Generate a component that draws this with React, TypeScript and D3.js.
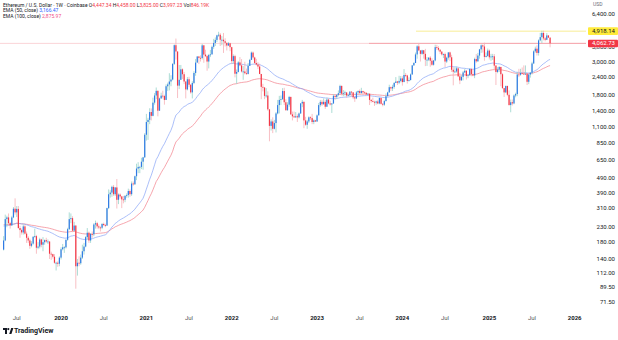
import React from "react";
import * as d3 from "d3";

// Weekly bars, first bar = week of Monday 2019-05-06
const FIRST_OPEN = 162;
const CLOSE = [
  187,261,268,245,237,268,307,290,306,227,
  220,212,233,208,195,187,172,178,198,200,
  167,170,190,175,182,188,184,184,152,151,
  145,132,132,130,143,163,168,168,189,223,
  261,265,218,236,125,132,131,143,158,170,
  197,211,187,207,206,240,245,233,229,228,
  242,238,236,310,385,395,432,385,428,353,
  383,372,355,353,375,380,405,385,455,450,
  510,575,590,590,640,685,975,1190,1230,1390,
  1310,1610,1800,1935,1420,1720,1795,1785,1680,2080,
  2140,2240,2310,2950,3950,3580,2100,2300,2710,2510,
  2240,1980,2320,2130,1890,2190,2560,3010,3310,3240,
  3230,3940,3410,3330,3060,3390,3420,3850,4090,4290,
  4610,4650,4300,4300,4200,4100,3930,4070,3830,3080,
  3330,2530,2600,3020,2880,2620,2620,2550,2520,2860,
  3140,3520,3260,2990,2920,2830,2520,2060,2040,1790,
  1800,1450,1120,1200,1070,1170,1360,1550,1680,1700,
  1930,1620,1430,1560,1760,1340,1300,1280,1300,1280,
  1360,1590,1630,1220,1140,1200,1280,1265,1190,1220,
  1200,1320,1550,1630,1570,1630,1510,1690,1590,1565,
  1590,1790,1760,1820,1865,2090,1850,1870,1890,1800,
  1810,1910,1890,1750,1720,1890,1930,1870,1930,1890,
  1880,1830,1850,1680,1650,1630,1610,1640,1590,1730,
  1580,1560,1650,1780,1890,2050,2010,2060,2190,2240,
  2200,2260,2350,2220,2480,2460,2260,2290,2500,2880,
  2990,3420,3880,3640,3450,3650,3450,3150,3150,3250,
  3100,2910,3110,3830,3780,3680,3570,3420,3440,3060,
  3250,3530,3270,2690,2610,2620,2750,2430,2280,2410,
  2580,2650,2440,2470,2720,2510,2460,3180,3070,3360,
  3700,3940,3870,3290,3340,3630,3270,3310,3320,2870,
  2600,2700,2810,2510,2020,1890,2090,1820,1550,1620,
  1590,1800,1840,2500,2490,2560,2530,2520,2530,2230,
  2500,2570,2970,3590,3740,3500,4260,4480,4780,4390,
  4300,4600,4447.34,4062.73,
];
const HIGH = [
  200,280,275,285,250,275,315,361,320,320,
  235,225,240,238,215,200,192,185,200,225,
  204,182,195,192,197,190,195,190,184,157,
  152,151,134,135,146,168,177,171,190,228,
  290,285,273,250,237,140,146,150,175,180,
  200,227,215,210,215,245,255,250,240,233,
  245,247,243,312,415,410,440,445,430,488,
  390,390,375,375,380,390,420,415,470,470,
  515,620,635,600,680,690,1000,1350,1270,1475,
  1470,1740,1870,2040,1950,1740,1880,1940,1820,2140,
  2200,2550,2470,2980,4000,4380,3580,2900,2900,2750,
  2600,2250,2400,2410,2150,2250,2630,3180,3330,3340,
  3370,4030,3970,3680,3400,3450,3670,3930,4360,4460,
  4650,4870,4770,4550,4780,4400,4100,4150,4100,3850,
  3420,3400,2700,3080,3280,3180,2850,3050,2740,2990,
  3190,3580,3580,3300,3190,3030,2960,2510,2160,2050,
  2020,1920,1450,1240,1280,1230,1390,1680,1790,1800,
  2020,2030,1700,1620,1790,1770,1400,1400,1390,1340,
  1380,1600,1680,1640,1290,1230,1300,1300,1350,1240,
  1230,1340,1600,1680,1680,1720,1680,1740,1720,1660,
  1600,1840,1830,1830,1950,2130,2110,1960,1940,1890,
  1850,1930,1930,1900,1760,1930,1950,1980,2030,1940,
  1920,1880,1870,1860,1700,1740,1660,1660,1680,1750,
  1750,1600,1680,1860,1910,2130,2070,2130,2220,2400,
  2260,2450,2440,2430,2720,2560,2490,2390,2540,2900,
  3030,3520,3950,4090,3650,3680,3650,3730,3280,3280,
  3330,3220,3130,3980,3970,3890,3700,3600,3470,3520,
  3300,3540,3570,3400,2800,2790,2820,2780,2560,2470,
  2640,2730,2670,2520,2760,2770,2720,3250,3440,3500,
  3730,4000,4000,4110,3530,3750,3700,3450,3450,3440,
  2900,2800,2850,2820,2550,2000,2100,2100,1950,1690,
  1690,1830,1880,2600,2730,2730,2790,2880,2880,2550,
  2520,2600,3050,3650,3860,3940,4330,4790,4950,4950,
  4480,4770,4620,4458,
];
const LOW = [
  160,185,230,235,225,235,265,280,270,225,
  195,205,205,205,180,180,164,168,175,195,
  152,163,165,168,158,175,180,177,140,138,
  141,130,117,124,125,139,160,154,165,186,
  220,245,213,215,88,108,125,128,140,150,
  168,190,180,180,195,200,225,225,223,215,
  223,234,230,235,305,365,370,375,375,308,
  330,360,310,334,340,365,365,370,375,440,
  445,480,535,535,570,565,680,890,900,1150,
  1220,1300,1560,1700,1300,1420,1710,1720,1560,1680,
  1935,1950,2080,2280,2900,3150,1730,1990,2380,2330,
  2150,1720,1950,2050,1850,1720,2150,2450,3030,2940,
  3060,3160,3000,3280,2650,2750,3280,3430,3730,3900,
  4150,4500,3900,3950,3500,3870,3640,3900,3600,2950,
  2960,2390,2160,2580,2840,2580,2300,2500,2480,2500,
  2860,3140,3150,2950,2880,2720,2510,1700,1920,1700,
  1740,1420,880,1040,1000,1060,1010,1340,1360,1550,
  1680,1550,1420,1420,1510,1330,1220,1270,1270,1190,
  1260,1350,1500,1080,1120,1070,1170,1230,1150,1150,
  1190,1190,1320,1510,1530,1560,1460,1510,1570,1540,
  1370,1580,1680,1700,1780,1850,1800,1780,1800,1740,
  1780,1780,1770,1700,1630,1700,1830,1820,1850,1830,
  1840,1810,1810,1550,1610,1620,1530,1560,1570,1570,
  1560,1520,1530,1640,1770,1880,1930,1930,2000,2190,
  2120,2150,2210,2100,2300,2400,2170,2240,2280,2490,
  2870,3050,3200,3600,3060,3400,3200,2850,2860,3080,
  2820,2860,2870,3070,3670,3590,3440,3360,3230,2810,
  2990,3150,3080,2600,2110,2550,2570,2400,2150,2270,
  2280,2550,2310,2360,2460,2430,2430,2360,3000,3050,
  3200,3500,3520,3100,3260,3300,3160,3100,3140,2700,
  2120,2550,2600,2080,2000,1760,1870,1780,1540,1385,
  1540,1570,1750,1780,2400,2450,2500,2480,2480,2120,
  2150,2380,2500,2940,3510,3360,3360,4200,4080,4260,
  4200,4280,4420,3825,
];

// EMA values carried in from history before the first visible bar
const EMA50_SEED = 236;
const EMA100_SEED = 240;

const PRICE_TICKS = [6400, 3800, 3000, 2400, 1800, 1400, 1100, 850, 650, 490, 390, 310, 230, 180, 140, 112, 89.5, 71.5];
const TIME_TICK_LABELS = ["Jul", "2020", "Jul", "2021", "Jul", "2022", "Jul", "2023", "Jul", "2024", "Jul", "2025", "Jul", "2026"];
const TIME_TICK_YEARS = [2019, 2020, 2020, 2021, 2021, 2022, 2022, 2023, 2023, 2024, 2024, 2025, 2025, 2026];
const TIME_TICK_MONTHS = [6, 0, 6, 0, 6, 0, 6, 0, 6, 0, 6, 0, 6, 0];

const LAST_PRICE = 4062.73;
const MARKED_HIGH = 4918.14;
const OHLC_LABELS = ["O", "H", "L", "C"];
const OHLC_VALUES = ["4,447.34", "4,458.00", "3,825.00", "3,997.23"];
const VOLUME_TEXT = "846.19K";
const EMA_LEGEND = ["EMA (50, close)", "EMA (100, close)"];
const EMA_LEGEND_VALUES = ["3,166.47", "2,875.97"];

const UP = "#2f7ae5";
const DOWN = "#f23645";
const UP_WICK = "#97d3ca";
const DOWN_WICK = "#f6b0b6";

export default function App() {
  const W = 618, H = 340;
  const n = Math.min(CLOSE.length, HIGH.length, LOW.length);
  const start = new Date(2019, 4, 6);
  const dateOf = (i: number) => d3.timeDay.offset(start, 7 * i);
  const x = d3.scaleTime().domain([start, new Date(2026, 0, 5)]).range([3.6, 574.7]);
  const y = d3.scaleLog().domain([71.5, 6400]).range([302, 14.3]);
  const plotRight = 586;

  const bars = d3.range(n).map((i) => {
    const o = i === 0 ? FIRST_OPEN : CLOSE[i - 1];
    const c = CLOSE[i];
    return { i, date: dateOf(i), o, c, h: Math.max(HIGH[i], o, c), l: Math.min(LOW[i], o, c) };
  });

  const ema = (period: number, seed: number) => {
    const a = 2 / (period + 1);
    let prev = seed;
    return bars.map((b) => {
      prev = a * b.c + (1 - a) * prev;
      return { date: b.date, v: prev };
    });
  };
  const ema50 = ema(50, EMA50_SEED);
  const ema100 = ema(100, EMA100_SEED);
  const line = d3.line<{ date: Date; v: number }>().x((d) => x(d.date)).y((d) => y(d.v));

  const fmt = d3.format(",.2f");
  const font = "Roboto, 'Noto Sans', Arial, sans-serif";
  const bw = 1.2;

  const timeTicks = TIME_TICK_LABELS.map((label, k) => ({
    label,
    isYear: label !== "Jul",
    date: d3.timeMonday.ceil(new Date(TIME_TICK_YEARS[k], TIME_TICK_MONTHS[k], 1)),
  }));

  const lastBoxBottom = y(LAST_PRICE) + 3.8;

  return (
    <svg width={W} height={H} style={{ position: "absolute", left: 0, top: 0, background: "#fff" }} fontFamily={font}>
      <rect x={0} y={0} width={W} height={H} fill="#fff" />
      <defs>
        <clipPath id="plot">
          <rect x={0} y={0} width={plotRight} height={310} />
        </clipPath>
        <clipPath id="underBox">
          <rect x={586} y={lastBoxBottom} width={32} height={20} />
        </clipPath>
      </defs>
      <g clipPath="url(#plot)">
        <line x1={0} x2={plotRight} y1={y(LAST_PRICE)} y2={y(LAST_PRICE)} stroke="#f9c9cd" strokeWidth={0.8} />
        <line x1={369} x2={plotRight} y1={y(LAST_PRICE)} y2={y(LAST_PRICE)} stroke="#f5a0a8" strokeWidth={0.9} />
        <line x1={416} x2={plotRight} y1={y(MARKED_HIGH)} y2={y(MARKED_HIGH)} stroke="#f7ec8a" strokeWidth={0.9} />
        <path d={line(ema100) || ""} fill="none" stroke="#f27a86" strokeOpacity={0.85} strokeWidth={0.8} />
        <path d={line(ema50) || ""} fill="none" stroke="#8aa6f7" strokeOpacity={0.9} strokeWidth={0.8} />
        {bars.map((b) => {
          const up = b.c >= b.o;
          const cx = x(b.date);
          const top = y(Math.max(b.o, b.c));
          const bot = y(Math.min(b.o, b.c));
          return (
            <g key={b.i}>
              <line x1={cx} x2={cx} y1={y(b.h)} y2={y(b.l)} stroke={up ? UP_WICK : DOWN_WICK} strokeWidth={0.8} />
              <rect x={cx - bw / 2} y={top} width={bw} height={Math.max(0.8, bot - top)} fill={up ? UP : DOWN} />
            </g>
          );
        })}
      </g>

      {/* price axis */}
      <text x={593} y={5} fontSize={5} fill="#6a6d78" dominantBaseline="middle">USD</text>
      {PRICE_TICKS.map((p) => (
        <text key={p} x={615} y={y(p)} fontSize={6} fill="#131722" textAnchor="end" dominantBaseline="middle"
          clipPath={p === 3800 ? "url(#underBox)" : undefined}>
          {fmt(p)}
        </text>
      ))}
      <rect x={588} y={y(MARKED_HIGH) - 3.8} width={30} height={7.6} fill="#ffeb3b" rx={1} />
      <text x={615} y={y(MARKED_HIGH)} fontSize={6} fill="#131722" textAnchor="end" dominantBaseline="middle">{fmt(MARKED_HIGH)}</text>
      <rect x={588} y={y(LAST_PRICE) - 3.6} width={30} height={7.4} fill={DOWN} rx={1} />
      <text x={615} y={y(LAST_PRICE)} fontSize={6} fill="#fff" textAnchor="end" dominantBaseline="middle">{fmt(LAST_PRICE)}</text>

      {/* time axis */}
      {timeTicks.map((t, k) => (
        <text key={k} x={x(t.date)} y={318.5} fontSize={6} textAnchor="middle" dominantBaseline="middle"
          fill={t.isYear ? "#131722" : "#555"} fontWeight={t.isYear ? 700 : 400}>
          {t.label}
        </text>
      ))}

      {/* legend */}
      <text x={3} y={5.5} fontSize={5} fill="#131722" dominantBaseline="middle">
        <tspan>Ethereum / U.S. Dollar · 1W · Coinbase </tspan>
        {OHLC_LABELS.map((l, k) => (
          <React.Fragment key={l}>
            <tspan fill="#131722"> {l}</tspan>
            <tspan fill={DOWN}>{OHLC_VALUES[k]}</tspan>
          </React.Fragment>
        ))}
        <tspan fill="#131722"> Vol</tspan>
        <tspan fill={DOWN}>{VOLUME_TEXT}</tspan>
      </text>
      <text x={3} y={11} fontSize={5} fill="#131722" dominantBaseline="middle">
        <tspan>{EMA_LEGEND[0]} </tspan>
        <tspan fill="#2962ff">{EMA_LEGEND_VALUES[0]}</tspan>
      </text>
      <text x={3} y={16.5} fontSize={5} fill="#131722" dominantBaseline="middle">
        <tspan>{EMA_LEGEND[1]} </tspan>
        <tspan fill="#f0518a">{EMA_LEGEND_VALUES[1]}</tspan>
      </text>

      {/* TradingView logo */}
      <g transform="translate(3,328)">
        <path d="M0 0 H4 V6 H2 V2 H0 Z" fill="#131722" />
        <circle cx={5.3} cy={1.1} r={1.1} fill="#131722" />
        <path d="M6.2 6 L8.2 0 H10.4 L8.4 6 Z" fill="#131722" />
      </g>
      <text x={14} y={331} fontSize={7} fontWeight={700} fill="#131722" dominantBaseline="middle">TradingView</text>
    </svg>
  );
}
